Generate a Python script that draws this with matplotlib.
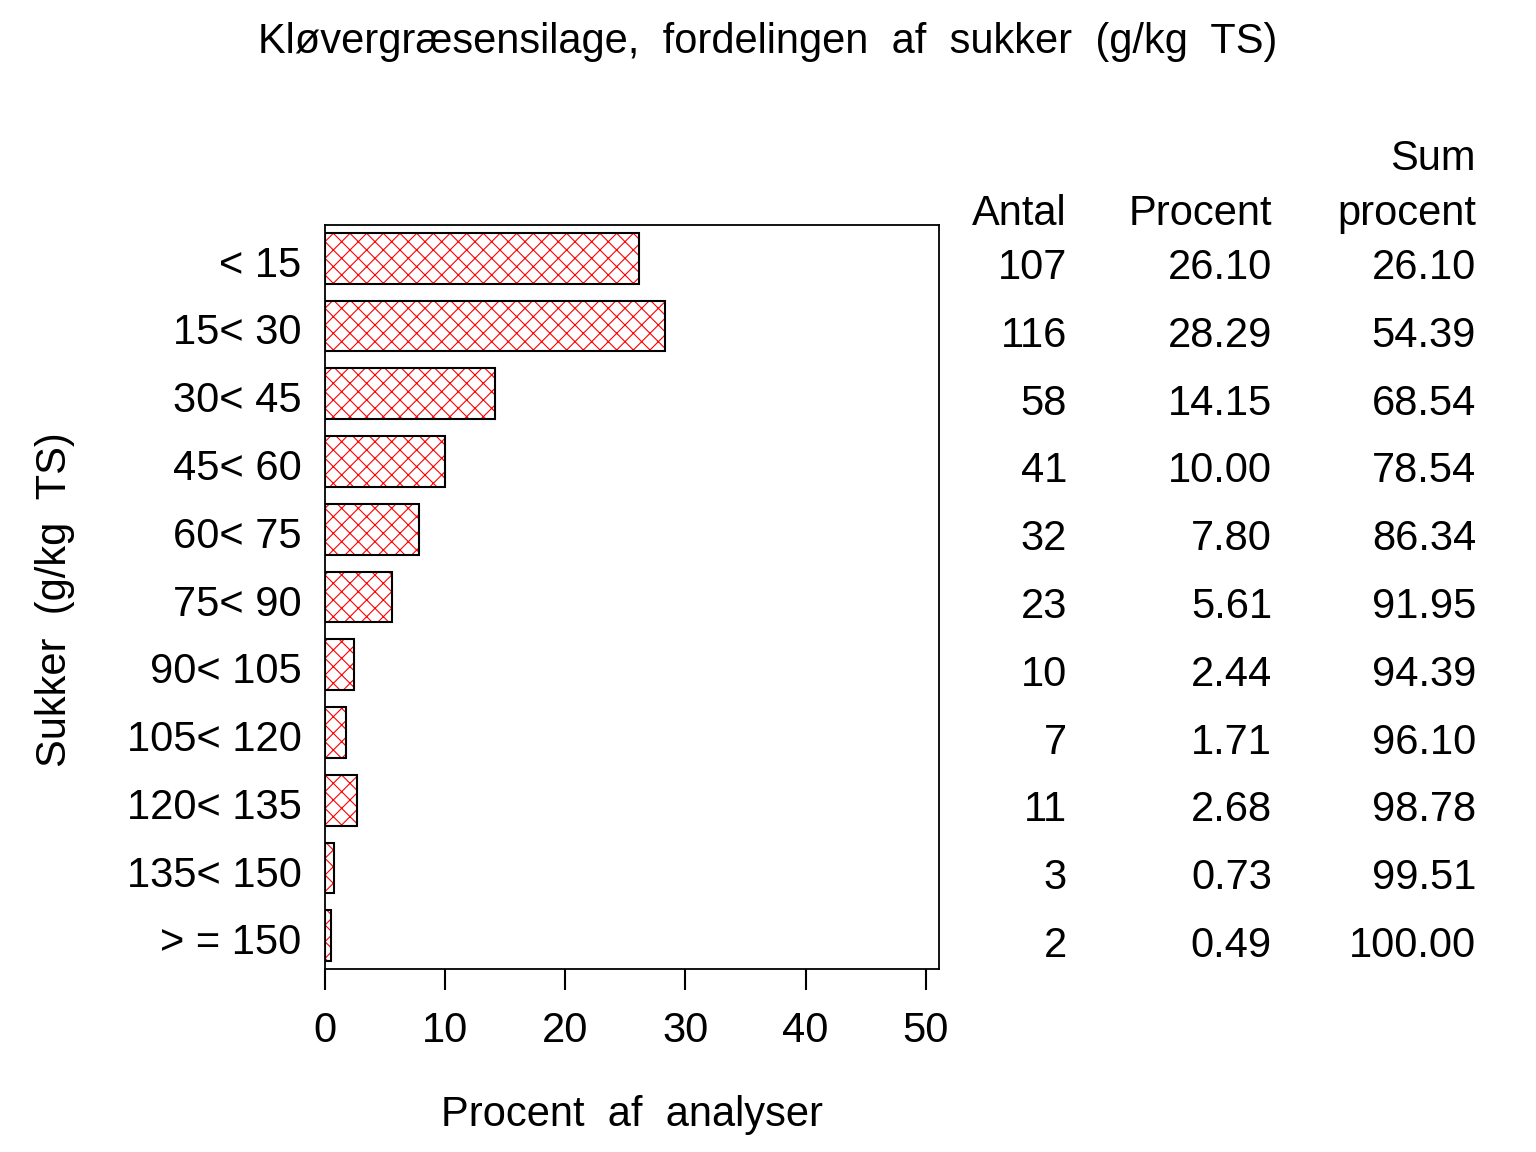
import matplotlib
matplotlib.use("Agg")
import matplotlib.pyplot as plt
import matplotlib.transforms as mtransforms
import numpy as np

# Data
categories = ["< 15", "15< 30", "30< 45", "45< 60", "60< 75", "75< 90",
              "90< 105", "105< 120", "120< 135", "135< 150", "> = 150"]
antal = [107, 116, 58, 41, 32, 23, 10, 7, 11, 3, 2]
procent = [26.10, 28.29, 14.15, 10.00, 7.80, 5.61, 2.44, 1.71, 2.68, 0.73, 0.49]
sum_procent = [26.10, 54.39, 68.54, 78.54, 86.34, 91.95, 94.39, 96.10, 98.78, 99.51, 100.00]
xticks = [0, 10, 20, 30, 40, 50]

plt.rcParams['font.family'] = ['Liberation Sans', 'DejaVu Sans']
plt.rcParams['hatch.linewidth'] = 0.8
FS = 30

W, H = 1536, 1152
fig = plt.figure(figsize=(15.36, 11.52), dpi=100)
ax = fig.add_axes([325 / W, 1 - 969 / H, (939 - 325) / W, (969 - 225) / H])

y = np.arange(len(categories))
# hatch layer (red) and outline layer (black)
ax.barh(y, procent, height=0.75, color='white', edgecolor='red', hatch='xx', linewidth=0)
ax.barh(y, procent, height=0.75, fill=False, edgecolor='black', linewidth=1.5)

ax.set_xlim(0, 51.1)
ax.set_ylim(10.49, -0.49)
ax.set_xticks(xticks)
ax.set_xticklabels([str(t) for t in xticks])
ax.set_yticks(y)
ax.set_yticklabels(categories)
ax.tick_params(axis='x', length=15, width=1.5, direction='out', labelsize=FS, pad=15)
ax.tick_params(axis='y', length=0, labelsize=FS, pad=17)
# labels sit a little below the bar centres in the reference
tick_shift = mtransforms.ScaledTranslation(0, -3 / 100, fig.dpi_scale_trans)
for lab in ax.get_yticklabels():
    lab.set_transform(lab.get_transform() + tick_shift)
for s in ax.spines.values():
    s.set_linewidth(1.3)

fig.text(632 / W, 1 - 1115 / H, "Procent  af  analyser", ha='center', va='center', fontsize=FS)
fig.text(55 / W, 1 - 600 / H, "Sukker  (g/kg  TS)", ha='center', va='center',
         rotation=90, fontsize=FS)
fig.text(768 / W, 1 - 42 / H, "Kløvergræsensilage,  fordelingen  af  sukker  (g/kg  TS)",
         ha='center', va='center', fontsize=FS)

# table on the right, rows aligned with the bars
row_shift = mtransforms.ScaledTranslation(0, -10 / 100, fig.dpi_scale_trans)
trans = mtransforms.blended_transform_factory(fig.transFigure, ax.transData) + row_shift
col_x = [1067 / W, 1272 / W, 1476 / W]
for i in range(len(categories)):
    vals = [str(antal[i]), f"{procent[i]:.2f}", f"{sum_procent[i]:.2f}"]
    for cx, v in zip(col_x, vals):
        ax.text(cx, y[i], v, transform=trans, ha='right', va='center', fontsize=FS,
                clip_on=False)

fig.text(col_x[0], 1 - 214 / H, "Antal", ha='right', va='center', fontsize=FS)
fig.text(col_x[1], 1 - 214 / H, "Procent", ha='right', va='center', fontsize=FS)
fig.text(col_x[2], 1 - 214 / H, "procent", ha='right', va='center', fontsize=FS)
fig.text(col_x[2], 1 - 159 / H, "Sum", ha='right', va='center', fontsize=FS)

fig.savefig("out.png", dpi=100)
